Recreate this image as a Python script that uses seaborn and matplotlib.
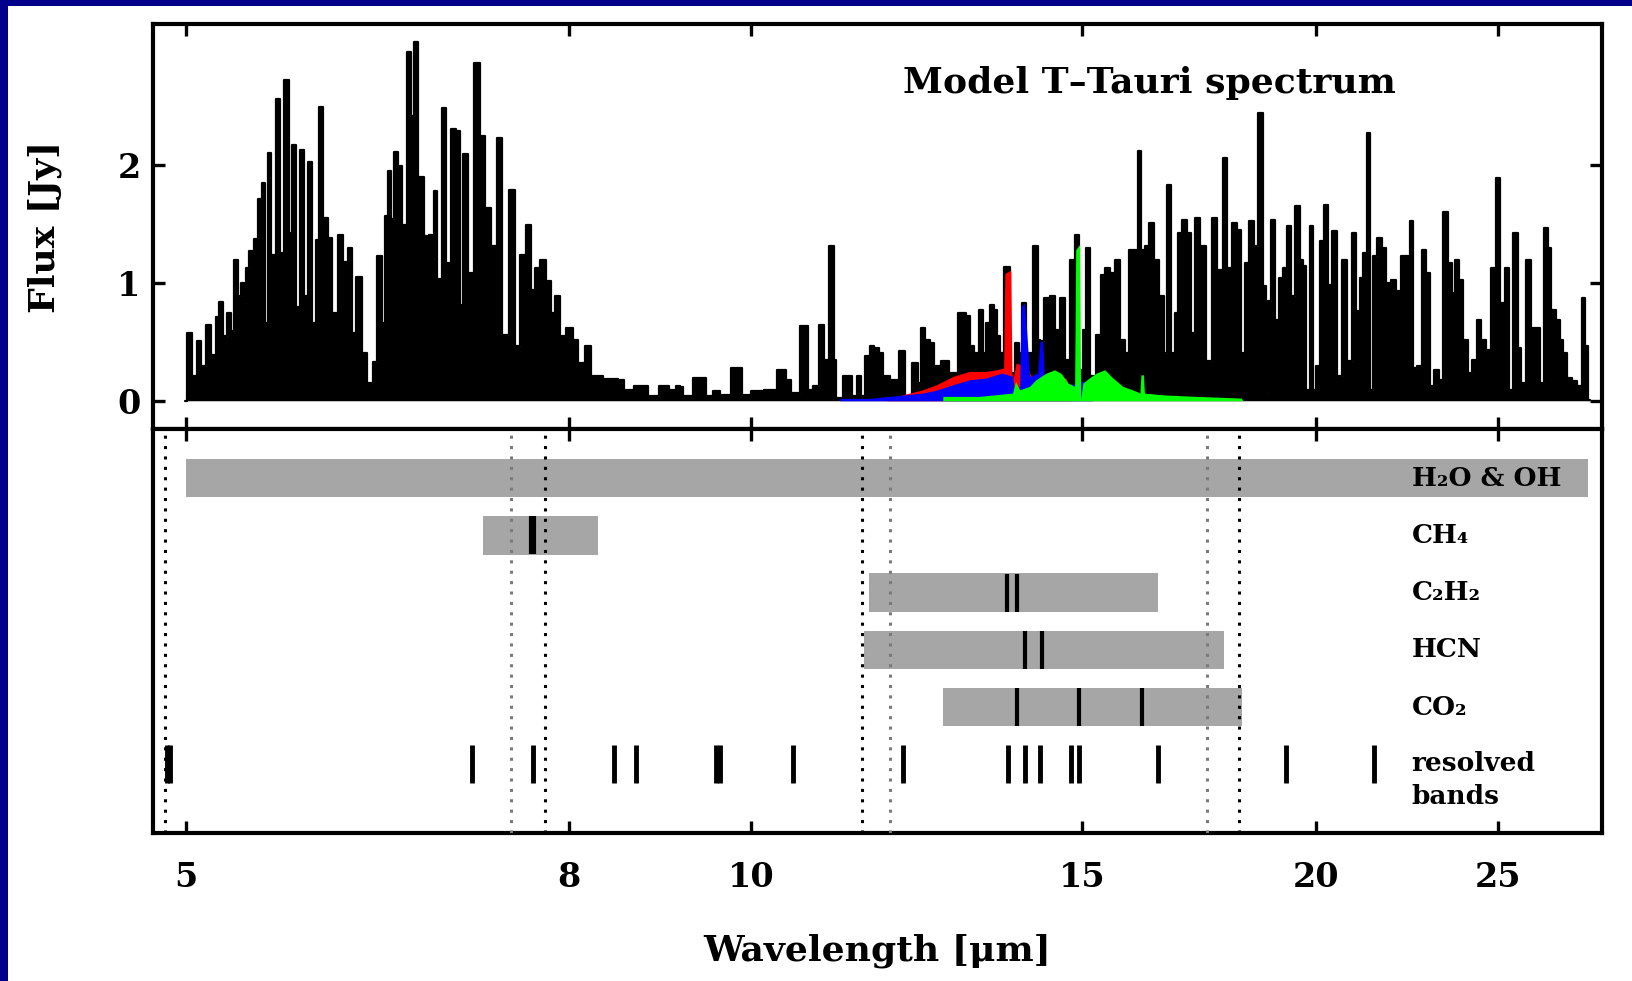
import matplotlib
matplotlib.use("Agg")
import matplotlib.pyplot as plt
import matplotlib.transforms as mtransforms
from matplotlib.patches import Rectangle
from matplotlib.ticker import FixedLocator, NullLocator
import seaborn as sns

# model spectrum (black): wavelength [um], flux [Jy]
spec_wl = [4.99, 5.013, 5.055, 5.076, 5.111, 5.138, 5.174, 5.195, 5.209, 5.248,
           5.269, 5.29, 5.316, 5.337, 5.354, 5.376, 5.387, 5.418, 5.445, 5.473,
           5.502, 5.517, 5.539, 5.562, 5.595, 5.626, 5.654, 5.684, 5.707, 5.734,
           5.765, 5.788, 5.823, 5.851, 5.873, 5.897, 5.926, 5.969, 5.993, 6.046,
           6.08, 6.113, 6.142, 6.18, 6.219, 6.27, 6.308, 6.334, 6.374, 6.392,
           6.413, 6.44, 6.467, 6.499, 6.535, 6.57, 6.604, 6.626, 6.667, 6.715,
           6.751, 6.771, 6.788, 6.822, 6.865, 6.893, 6.945, 6.982, 7.002, 7.04,
           7.09, 7.148, 7.197, 7.235, 7.294, 7.338, 7.39, 7.467, 7.507, 7.553,
           7.616, 7.647, 7.695, 7.742, 7.805, 7.837, 7.885, 7.934, 7.999, 8.064,
           8.114, 8.19, 8.231, 8.435, 8.54, 8.575, 8.752, 8.86, 9.007, 9.08,
           9.154, 9.173, 9.23, 9.38, 9.44, 9.477, 9.596, 9.655, 9.863, 9.915,
           10.08, 10.247, 10.402, 10.458, 10.54, 10.695, 10.74, 10.827, 10.916, 10.96,
           11.05, 11.086, 11.118, 11.279, 11.348, 11.418, 11.465, 11.536, 11.607, 11.655,
           11.727, 11.775, 11.944, 12.04, 12.116, 12.241, 12.291, 12.352, 12.403, 12.495,
           12.546, 12.7, 12.779, 12.991, 13.044, 13.098, 13.178, 13.258, 13.313, 13.367,
           13.449, 13.505, 13.55, 13.588, 13.70, 13.783, 13.868, 13.925, 13.953, 14.067,
           14.195, 14.241, 14.27, 14.389, 14.477, 14.566, 14.656, 14.746, 14.837, 14.928,
           14.99, 15.052, 15.113, 15.207, 15.332, 15.395, 15.49, 15.585, 15.681, 15.777,
           15.842, 15.939, 16.037, 16.09, 16.168, 16.235, 16.335, 16.436, 16.537, 16.639,
           16.687, 16.776, 16.845, 16.914, 17.018, 17.123, 17.193, 17.299, 17.406, 17.549,
           17.657, 17.765, 17.897, 17.97, 18.096, 18.207, 18.282, 18.357, 18.47, 18.583,
           18.682, 18.774, 18.828, 18.89, 18.967, 19.045, 19.162, 19.24, 19.359, 19.438,
           19.558, 19.638, 19.719, 19.8, 19.882, 19.963, 20.045, 20.127, 20.251, 20.335,
           20.46, 20.587, 20.714, 20.839, 20.968, 21.054, 21.14, 21.227, 21.331, 21.401,
           21.489, 21.621, 21.754, 21.843, 21.977, 22.113, 22.249, 22.386, 22.478, 22.57,
           22.709, 22.849, 22.943, 23.037, 23.179, 23.322, 23.437, 23.561, 23.677, 23.755,
           23.9, 24.017, 24.145, 24.293, 24.442, 24.545, 24.696, 24.848, 25.0, 25.135,
           25.28, 25.415, 25.539, 25.675, 25.78, 25.939, 26.099, 26.26, 26.389, 26.509,
           26.638, 26.747, 26.912, 27.023, 27.134, 27.301, 27.47, 27.64, 27.751, 27.865,
           27.98]
spec_flux = [0.0, 0.575, 0.212, 0.51, 0.292, 0.646, 0.391, 0.708, 0.836, 0.547,
             0.745, 0.589, 1.198, 0.887, 1.0, 0.83, 1.127, 1.27, 1.377, 1.71,
             1.85, 0.66, 2.105, 1.24, 2.564, 1.255, 2.728, 1.425, 2.17, 0.80,
             2.133, 0.887, 2.025, 0.66, 1.368, 2.496, 1.55, 1.38, 0.745, 1.41,
             1.18, 1.30, 0.575, 1.048, 0.405, 0.15, 0.326, 1.227, 0.66, 1.567,
             1.955, 1.54, 2.116, 1.99, 1.496, 2.963, 2.416, 3.045, 1.898, 1.397,
             1.41, 1.2, 1.785, 1.03, 2.487, 1.17, 2.31, 2.29, 0.816, 2.1,
             1.085, 2.87, 2.246, 1.637, 1.312, 2.23, 0.561, 1.787, 0.462, 1.24,
             1.496, 0.943, 1.127, 1.198, 1.014, 0.745, 0.887, 0.547, 0.618, 0.518,
             0.32, 0.467, 0.207, 0.184, 0.178, 0.093, 0.122, 0.037, 0.122, 0.093,
             0.122, 0.12, 0.037, 0.193, 0.193, 0.037, 0.08, 0.05, 0.278, 0.05,
             0.08, 0.093, 0.263, 0.178, 0.065, 0.632, 0.093, 0.122, 0.646, 0.348,
             1.312, 0.348, 0.023, 0.207, 0.037, 0.207, 0.037, 0.377, 0.462, 0.448,
             0.405, 0.207, 0.178, 0.419, 0.037, 0.32, 0.15, 0.618, 0.518, 0.49,
             0.292, 0.334, 0.235, 0.745, 0.717, 0.462, 0.405, 0.773, 0.405, 0.66,
             0.816, 0.773, 0.547, 0.405, 1.14, 0.235, 0.49, 0.405, 0.83, 0.405,
             1.312, 0.518, 0.504, 0.873, 0.887, 0.603, 0.873, 0.348, 1.198, 1.41,
             0.263, 0.603, 1.297, 0.207, 0.561, 1.07, 1.127, 1.085, 1.198, 0.518,
             0.405, 1.283, 1.283, 2.119, 1.283, 1.312, 1.51, 1.198, 0.887, 0.405,
             1.836, 0.405, 0.745, 1.425, 1.538, 1.425, 0.575, 1.552, 1.312, 0.334,
             1.552, 1.113, 2.062, 1.127, 1.51, 1.453, 0.405, 1.17, 1.524, 1.312,
             2.445, 0.972, 0.065, 0.844, 1.538, 0.688, 1.042, 1.127, 1.482, 0.887,
             1.652, 1.198, 1.142, 0.093, 1.482, 0.093, 0.292, 1.354, 1.666, 0.986,
             1.44, 0.207, 1.198, 0.334, 1.425, 0.759, 1.042, 1.255, 2.275, 0.093,
             1.227, 1.382, 1.297, 1.0, 1.028, 0.929, 1.227, 1.227, 1.524, 0.278,
             0.292, 1.283, 1.085, 0.122, 0.263, 0.178, 1.6, 1.17, 0.915, 1.198,
             1.028, 0.518, 0.235, 0.348, 0.688, 0.518, 0.433, 1.127, 1.892, 0.83,
             1.127, 0.093, 1.425, 0.448, 0.15, 1.198, 0.618, 0.618, 0.15, 1.467,
             1.297, 0.773, 0.688, 0.518, 0.405, 0.193, 0.164, 0.122, 0.873, 0.462,
             0.01]

# molecular model spectra (C2H2 red, HCN blue, CO2 green)
c2h2_wl = [11.8, 12.04, 12.34, 12.55, 12.81, 13.07, 13.34, 13.505, 13.63, 13.65,
           13.75, 13.77, 13.79, 13.84, 14.01, 14.12, 14.36, 14.72, 14.84]
c2h2_flux = [0.0, 0.05, 0.093, 0.136, 0.207, 0.249, 0.249, 0.263, 0.278, 1.08,
             1.11, 0.235, 0.19, 0.32, 0.29, 0.19, 0.22, 0.19, 0.0]
hcn_wl = [11.15, 11.56, 12.34, 12.55, 12.81, 13.07, 13.34, 13.505, 13.61, 13.78,
          13.81, 13.9, 13.925, 13.98, 14.02, 14.07, 14.21, 14.25, 14.3, 14.33,
          14.66, 15.02, 15.14, 15.2]
hcn_flux = [0.02, 0.02, 0.065, 0.09, 0.136, 0.178, 0.193, 0.22, 0.235, 0.207,
            0.09, 0.12, 0.80, 0.83, 0.6, 0.207, 0.235, 0.504, 0.504, 0.178,
            0.12, 0.164, 0.15, 0.0]
co2_wl = [12.65, 13.23, 13.78, 13.83, 13.9, 14.07, 14.18, 14.36, 14.51, 14.63,
          14.75, 14.87, 14.89, 14.96, 14.98, 15.02, 15.14, 15.27, 15.43, 15.585,
          15.777, 16.04, 16.11, 16.13, 16.18, 16.2, 16.57, 17.26, 18.24, 18.28]
co2_flux = [0.037, 0.037, 0.065, 0.164, 0.093, 0.122, 0.178, 0.235, 0.263, 0.23,
            0.15, 0.122, 1.283, 1.326, 0.01, 0.15, 0.193, 0.235, 0.263, 0.193,
            0.122, 0.08, 0.065, 0.22, 0.22, 0.065, 0.05, 0.037, 0.023, 0.0]

# lower panel: wavelength coverage of each species
species = ["H\u2082O & OH", "CH\u2084", "C\u2082H\u2082", "HCN", "CO\u2082"]
band_start = [5.0, 7.20, 11.55, 11.49, 12.65]
band_end = [27.9, 8.29, 16.47, 17.86, 18.27]
# strong Q-branches marked inside the bars (row index, wavelength)
q_rows = [1, 1, 2, 2, 3, 3, 4, 4, 4]
q_wl = [7.635, 7.665, 13.68, 13.86, 13.99, 14.29, 13.86, 14.95, 16.16]
resolved_wl = [4.885, 4.90, 7.10, 7.65, 8.45, 8.68, 9.58, 9.62, 10.52, 12.04,
               13.70, 13.99, 14.25, 14.81, 14.95, 16.47, 19.28, 21.48]
edge_black = [4.87, 7.76, 11.46, 18.19]
edge_grey = [7.45, 11.85, 17.49]

xticks = [5, 8, 10, 15, 20, 25]
yticks = [0, 1, 2]

sns.set_theme(style="white")
plt.rcParams["font.family"] = ["DejaVu Serif"]
plt.rcParams["font.weight"] = "bold"
plt.rcParams["axes.linewidth"] = 3.0
plt.rcParams["axes.edgecolor"] = "black"
plt.rcParams["text.color"] = "black"
plt.rcParams["axes.labelcolor"] = "black"
plt.rcParams["xtick.color"] = "black"
plt.rcParams["ytick.color"] = "black"

W, H = 1632, 981
fig = plt.figure(figsize=(W / 100, H / 100), dpi=100, facecolor="#00008b")
fig.patches.append(Rectangle((8 / W, 0), 1 - 8 / W, 1 - 6 / H, transform=fig.transFigure,
                             facecolor="white", edgecolor="none", zorder=-5))

left, width = 153 / W, 1449 / W
ax1 = fig.add_axes([left, (H - 429) / H, width, 405 / H])
ax2 = fig.add_axes([left, (H - 833) / H, width, 404 / H])

for ax in (ax1, ax2):
    ax.set_xscale("log")
    ax.set_xlim(4.8, 28.4)
    ax.xaxis.set_major_locator(FixedLocator(xticks))
    ax.xaxis.set_minor_locator(NullLocator())
    ax.tick_params(axis="both", which="major", direction="in", length=8.6, width=2.4,
                   top=True, bottom=True, labelsize=24, colors="black")
    for sp in ax.spines.values():
        sp.set_linewidth(3.0)
        sp.set_color("black")

# upper panel: spectrum
ax1.fill_between(spec_wl, spec_flux, 0, step="mid", color="black", lw=0, zorder=2)
sns.lineplot(x=spec_wl, y=spec_flux, ax=ax1, color="black", lw=1.6,
             drawstyle="steps-mid", estimator=None, sort=False, zorder=2)
ax1.fill_between(c2h2_wl, c2h2_flux, 0, color="#ff0000", lw=0, zorder=3)
ax1.fill_between(hcn_wl, hcn_flux, 0, color="#0000ff", lw=0, zorder=4)
ax1.fill_between(co2_wl, co2_flux, 0, color="#00ff00", lw=0, zorder=5)
ax1.set_ylim(-0.24, 3.2)
ax1.yaxis.set_major_locator(FixedLocator(yticks))
ax1.tick_params(axis="y", right=True, left=True, pad=9)
ax1.tick_params(axis="x", labelbottom=False)
ax1.set_xlabel("")
ax1.set_ylabel("Flux [Jy]", fontsize=26, fontweight="bold", color="black")
ax1.yaxis.set_label_coords(-0.063, 0.5)
ax1.text(0.688, 0.854, "Model T\u2013Tauri spectrum", transform=ax1.transAxes,
         ha="center", va="center", fontsize=26, fontweight="bold", color="black")

# lower panel: coverage bars, Q-branches and resolved bands
rows = list(range(len(species)))
widths = [e - s for s, e in zip(band_start, band_end)]
ax2.barh(rows, widths, left=band_start, height=0.67, color="#a6a6a6", lw=0, zorder=1)
ax2.vlines(q_wl, [r - 0.333 for r in q_rows], [r + 0.333 for r in q_rows],
           color="black", lw=3.0, zorder=3)
res_row = len(species)
ax2.vlines(resolved_wl, res_row - 0.333, res_row + 0.333, color="black", lw=3.5, zorder=3)
for x in edge_black:
    ax2.axvline(x, color="black", lw=2.2, ls=(0, (1, 2.4)), zorder=4)
for x in edge_grey:
    ax2.axvline(x, color="#7a7a7a", lw=2.2, ls=(0, (1, 2.4)), zorder=4)
ax2.set_ylim(6.2, -0.858)
ax2.set_yticks([])
ax2.tick_params(axis="x", pad=20)
ax2.set_xticklabels([str(t) for t in xticks])

lab_tr = mtransforms.blended_transform_factory(ax2.transAxes, ax2.transData)
for r, name in zip(rows, species):
    ax2.text(0.8687, r, name, transform=lab_tr, ha="left", va="center",
             fontsize=19, fontweight="bold", color="black")
ax2.text(0.8687, res_row + 0.28, "resolved\nbands", transform=lab_tr, ha="left",
         va="center", fontsize=19, fontweight="bold", linespacing=1.4, color="black")

ax2.set_xlabel("Wavelength [\u03bcm]", fontsize=26, fontweight="bold", color="black")
ax2.xaxis.set_label_coords(0.5, -0.25)

fig.savefig("out.png", dpi=100, facecolor=fig.get_facecolor())
